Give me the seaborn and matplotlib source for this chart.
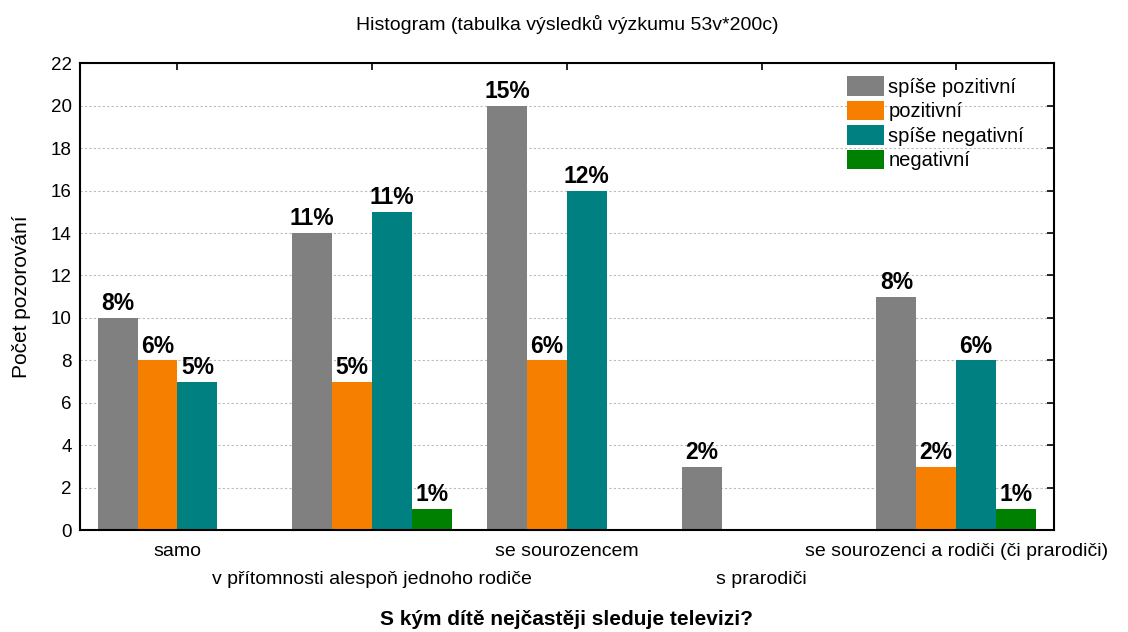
import pandas as pd
import matplotlib
matplotlib.use("Agg")
import matplotlib.pyplot as plt
import seaborn as sns

# data
kategorie = ["samo", "v přítomnosti alespoň jednoho rodiče", "se sourozencem",
             "s prarodiči", "se sourozenci a rodiči (či prarodiči)"]
serie = ["spíše pozitivní", "pozitivní", "spíše negativní", "negativní"]
spise_pozitivni = [10, 14, 20, 3, 11]
pozitivni = [8, 7, 8, 0, 3]
spise_negativni = [7, 15, 16, 0, 8]
negativni = [0, 1, 0, 0, 1]
procenta = [
    ["8%", "11%", "15%", "2%", "8%"],
    ["6%", "5%", "6%", "", "2%"],
    ["5%", "11%", "12%", "", "6%"],
    ["", "1%", "", "", "1%"],
]
barvy = ["#808080", "#F77F00", "#008080", "#008000"]

rows = []
for s, vals in zip(serie, [spise_pozitivni, pozitivni, spise_negativni, negativni]):
    for k, v in zip(kategorie, vals):
        rows.append({"kategorie": k, "serie": s, "pocet": v})
df = pd.DataFrame(rows)

sns.set_style("white")
plt.rcParams["font.family"] = ["Liberation Sans", "DejaVu Sans"]
plt.rcParams["text.color"] = "black"
plt.rcParams["axes.labelcolor"] = "black"
plt.rcParams["xtick.color"] = "black"
plt.rcParams["ytick.color"] = "black"

fig = plt.figure(figsize=(11.28, 6.32), dpi=100)
ax = fig.add_axes([0.071, 0.161, 0.863, 0.739])

sns.barplot(data=df, x="kategorie", y="pocet", hue="serie", order=kategorie,
            hue_order=serie, palette=barvy, width=0.82, saturation=1,
            edgecolor="none", ax=ax)

for cont, labs in zip(ax.containers, procenta):
    ax.bar_label(cont, labels=labs, padding=2, fontsize=16.5, fontweight="bold")

ax.set_ylim(0, 22)
ax.set_xlim(-0.5, 4.5)
ax.set_yticks(range(0, 23, 2))
ax.yaxis.grid(True, linestyle=(0, (2, 2)), color="#bbbbbb", linewidth=0.8)
ax.set_axisbelow(True)

# staggered category labels: even ones as major ticks, odd ones as minor ticks lower down
idx = list(range(len(kategorie)))
ax.set_xticks(idx[0::2])
ax.set_xticklabels(kategorie[0::2], fontsize=14)
ax.set_xticks(idx[1::2], minor=True)
ax.set_xticklabels(kategorie[1::2], minor=True, fontsize=14)
ax.tick_params(axis="both", which="major", direction="in", length=5, width=1.2,
               top=True, right=True)
ax.tick_params(axis="y", labelsize=13.5, pad=6)
ax.tick_params(axis="x", which="major", pad=9)
ax.tick_params(axis="x", which="minor", direction="in", length=5, width=1.2,
               top=True, pad=29)
for sp in ax.spines.values():
    sp.set_color("black")
    sp.set_linewidth(1.5)

ax.set_xlabel("S kým dítě nejčastěji sleduje televizi?", fontsize=15,
              fontweight="bold", labelpad=16)
ax.set_ylabel("Počet pozorování", fontsize=15, labelpad=14)
ax.set_title("Histogram (tabulka výsledků výzkumu 53v*200c)", fontsize=14, pad=24)

ax.legend(loc="upper left", frameon=False, fontsize=14.5, handlelength=1.85,
          handleheight=1.1, handletextpad=0.2, labelspacing=0.2,
          borderpad=0, borderaxespad=0, bbox_to_anchor=(0.788, 0.972))

fig.savefig("out.png", dpi=100)
